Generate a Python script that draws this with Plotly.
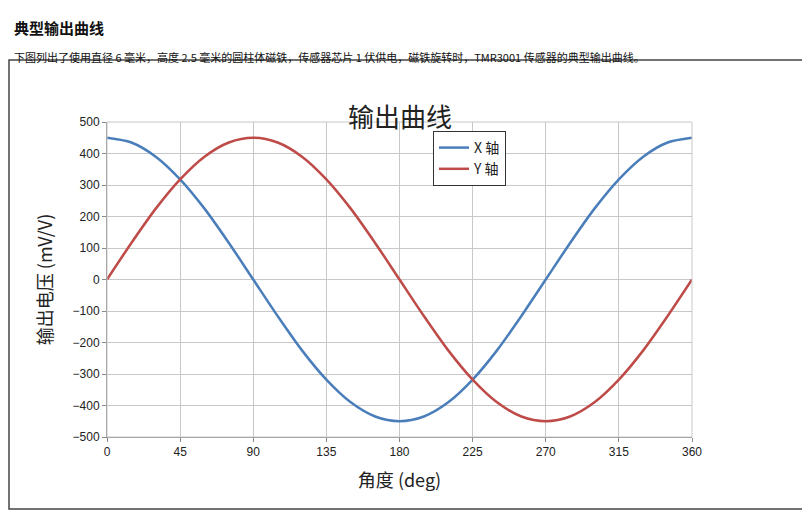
import plotly.graph_objects as go

# 角度 (deg) 与输出电压 (mV/V)
angle = [0, 15, 30, 45, 60, 75, 90, 105, 120, 135, 150, 165, 180,
         195, 210, 225, 240, 255, 270, 285, 300, 315, 330, 345, 360]
x_axis = [450, 435, 390, 318, 225, 116, 0, -116, -225, -318, -390, -435, -450,
          -435, -390, -318, -225, -116, 0, 116, 225, 318, 390, 435, 450]
y_axis = [0, 116, 225, 318, 390, 435, 450, 435, 390, 318, 225, 116, 0,
          -116, -225, -318, -390, -435, -450, -435, -390, -318, -225, -116, 0]

OFF = 8  # 页面默认边距
W, H = 810 - 2 * OFF, 518 - 2 * OFF
L, R, T, B = 107 - OFF, 692 - OFF, 122 - OFF, 437 - OFF
pw, ph = R - L, B - T

def px_x(p):
    return (p - OFF - L) / pw

def px_y(p):
    return (B - (p - OFF)) / ph

cjk = "Noto Sans CJK SC"

fig = go.Figure()
fig.add_trace(go.Scatter(x=angle, y=x_axis, name="X 轴", mode="lines",
                         line=dict(color="#4a7ebb", width=2.5, shape="spline", smoothing=0.8)))
fig.add_trace(go.Scatter(x=angle, y=y_axis, name="Y 轴", mode="lines",
                         line=dict(color="#be4b48", width=2.5, shape="spline", smoothing=0.8)))

fig.update_layout(
    width=W, height=H,
    margin=dict(l=L, r=W - R, t=T, b=H - B),
    paper_bgcolor="white", plot_bgcolor="white",
    font=dict(family="Liberation Sans, Arial", size=12, color="#222"),
    showlegend=True,
    legend=dict(x=px_x(433), y=px_y(131), xanchor="left", yanchor="top",
                bordercolor="#333", borderwidth=1, bgcolor="white",
                font=dict(family=cjk, size=14, color="#222")),
    xaxis=dict(range=[0, 360], tickvals=list(range(0, 361, 45)),
               showgrid=True, gridcolor="#c8c8c8", zeroline=False,
               showline=True, linecolor="#888", ticks="outside", ticklen=4,
               tickcolor="#888",
               title=dict(text="角度 (deg)", font=dict(family=cjk, size=18))),
    yaxis=dict(range=[-500, 500], tickvals=list(range(-500, 501, 100)),
               showgrid=True, gridcolor="#c8c8c8", zeroline=False,
               showline=True, linecolor="#888", ticks="outside", ticklen=4,
               tickcolor="#888",
               title=dict(text="输出电压 (mV/V)", font=dict(family=cjk, size=18))),
)

# 图表外框
fig.add_shape(type="rect", xref="paper", yref="paper",
              x0=px_x(9), x1=px_x(804), y0=px_y(509), y1=px_y(60),
              line=dict(color="#444", width=1.5), layer="below")
# 绘图区边线
fig.add_shape(type="rect", xref="paper", yref="paper", x0=0, x1=1, y0=0, y1=1,
              line=dict(color="#c8c8c8", width=1))

fig.add_annotation(text="输出曲线", xref="paper", yref="paper",
                   x=px_x(400), y=px_y(95), showarrow=False,
                   font=dict(family=cjk, size=26, color="#222"))
fig.add_annotation(text="<b>典型输出曲线</b>", xref="paper", yref="paper",
                   x=px_x(12), y=px_y(15), xanchor="left", showarrow=False,
                   font=dict(family=cjk, size=15, color="#111"))
fig.add_annotation(text="下图列出了使用直径 6 毫米，高度 2.5 毫米的圆柱体磁铁，传感器芯片 1 伏供电，磁铁旋转时，TMR3001 传感器的典型输出曲线。",
                   xref="paper", yref="paper",
                   x=px_x(12), y=px_y(47), xanchor="left", showarrow=False,
                   font=dict(family=cjk, size=11, color="#111"))

fig.write_html("out.html")
